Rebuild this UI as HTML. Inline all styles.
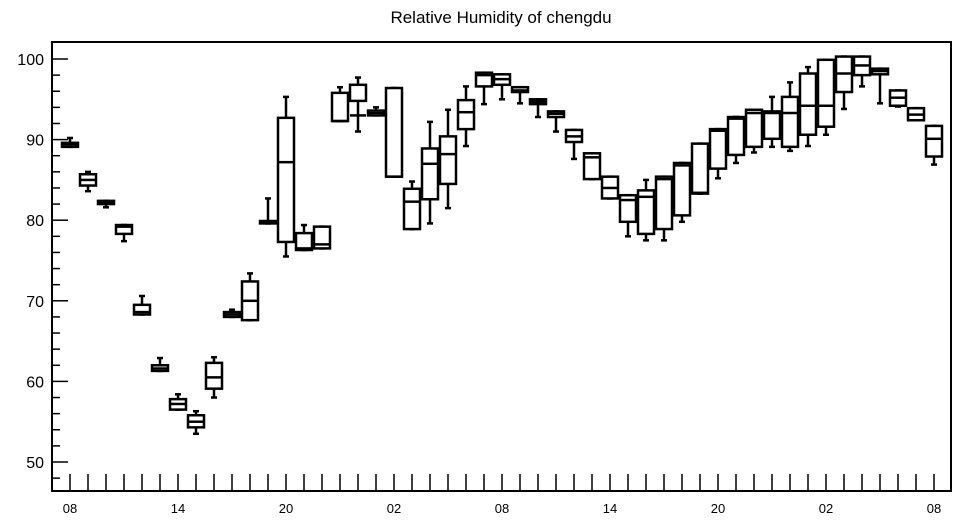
<!DOCTYPE html>
<html><head><meta charset="utf-8"><style>
html,body{margin:0;padding:0;background:#fff;}
svg{display:block;font-family:"Liberation Sans",sans-serif;}
</style></head><body>
<svg id="chart" width="957" height="520" viewBox="0 0 957 520" xmlns="http://www.w3.org/2000/svg">
<text x="501" y="23" font-size="17" text-anchor="middle">Relative Humidity of chengdu</text>
<rect x="52" y="42" width="899" height="449" fill="none" stroke="#000" stroke-width="2"/>
<g id="marks"></g>
</svg>
<script>
const xLabels = ["08","14","20","02","08","14","20","02","08"];
const yTicks = [50,60,70,80,90,100];
const q1 =  [89.1,84.3,82.0,78.3,68.3,61.3,56.5,54.3,59.1,68.0,67.6,79.6,77.3,76.3,76.5,92.3,94.8,93.0,85.4,78.9,82.6,84.5,91.3,96.6,96.8,95.9,94.4,92.8,89.7,85.1,82.7,79.8,78.3,78.9,80.6,83.3,86.4,88.1,89.1,90.1,89.1,90.6,91.6,95.9,98.0,98.1,94.2,92.4,87.9];
const med = [89.4,85.0,82.2,79.2,68.6,61.6,57.2,55.0,60.5,68.3,70.0,79.8,87.2,76.5,77.0,92.3,93.0,93.3,85.4,82.3,87.0,88.2,93.4,98.0,97.5,96.1,94.7,93.2,90.4,87.8,84.0,82.5,82.9,85.1,86.8,83.4,91.1,92.6,93.3,93.3,93.3,94.2,94.2,98.2,99.2,98.5,95.2,93.1,90.1];
const q3 =  [89.6,85.7,82.4,79.4,69.5,62.0,57.8,55.8,62.3,68.6,72.4,79.9,92.7,78.4,79.2,95.8,96.8,93.6,96.4,83.9,88.9,90.4,94.9,98.3,98.1,96.5,95.0,93.5,91.2,88.3,85.4,83.1,83.7,85.4,87.1,89.5,91.3,92.8,93.7,93.5,95.3,98.2,99.9,100.3,100.3,98.8,96.1,93.9,91.7];
const lo =  [89.1,83.6,81.6,77.4,68.3,61.3,56.5,53.5,58.0,68.0,67.6,79.6,75.5,76.3,76.5,92.3,91.0,93.0,85.4,78.9,79.6,81.5,89.2,94.4,95.0,94.5,92.8,91.0,87.6,85.1,82.7,78.0,77.5,77.5,79.8,83.3,85.2,87.1,88.4,89.1,88.6,89.2,90.6,93.8,96.6,94.5,94.1,92.4,86.9];
const hi =  [90.2,86.0,82.4,79.4,70.6,62.9,58.4,56.3,63.0,68.9,73.4,82.7,95.3,79.4,79.2,96.5,97.7,94.0,96.4,84.8,92.2,93.7,96.6,98.3,98.1,96.5,95.0,93.5,91.2,88.3,85.4,83.1,85.0,85.4,87.1,89.5,91.3,92.8,93.7,95.3,97.1,99.0,99.9,100.3,100.3,98.8,96.1,93.9,91.7];

const NS="http://www.w3.org/2000/svg";
const g=document.getElementById('marks');
const X0=70, DX=18;
function xPos(i){return X0+i*DX;}
function yPos(v){return 462-(v-50)*8.06;}
function mk(tag,attrs,parent){const e=document.createElementNS(NS,tag);for(const k in attrs)e.setAttribute(k,attrs[k]);(parent||g).appendChild(e);return e;}

// y ticks
for(let v=46; v<=104; v+=2){
  const y=yPos(v); if(y<43||y>490) continue;
  const major=v%10===0;
  const t=mk('line',{x1:52,x2:52+(major?16:8),y1:y,y2:y,stroke:'#000','stroke-width':1.5});
  
  
}
yTicks.forEach(v=>{
  const t=mk('text',{x:44,y:yPos(v)+6,'font-size':16,'text-anchor':'end'});
  t.textContent=String(v);
  
  
});
// x ticks
for(let i=0;i<q1.length;i++){
  const t=mk('line',{x1:xPos(i),x2:xPos(i),y1:491,y2:474,stroke:'#000','stroke-width':1.5});
  
  
}
xLabels.forEach((s,k)=>{
  const t=mk('text',{x:xPos(k*6),y:513,'font-size':13,'text-anchor':'middle'});
  t.textContent=s;
  
  
});
// boxes
const W=8;
for(let i=0;i<q1.length;i++){
  const x=xPos(i);
  const grp=mk('g',{stroke:'#000','stroke-width':2.5,fill:'none'});
  
  
  mk('line',{x1:x,x2:x,y1:yPos(q3[i]),y2:yPos(hi[i])},grp);
  mk('line',{x1:x,x2:x,y1:yPos(q1[i]),y2:yPos(lo[i])},grp);
  mk('line',{x1:x-3,x2:x+3,y1:yPos(hi[i]),y2:yPos(hi[i])},grp);
  mk('line',{x1:x-3,x2:x+3,y1:yPos(lo[i]),y2:yPos(lo[i])},grp);
  const top=yPos(q3[i]), bot=yPos(q1[i]);
  mk('rect',{x:x-W,y:top,width:2*W,height:Math.max(bot-top,1.5),fill:'#fff'},grp);
  mk('line',{x1:x-W,x2:x+W,y1:yPos(med[i]),y2:yPos(med[i])},grp);
}
</script>
</body></html>
